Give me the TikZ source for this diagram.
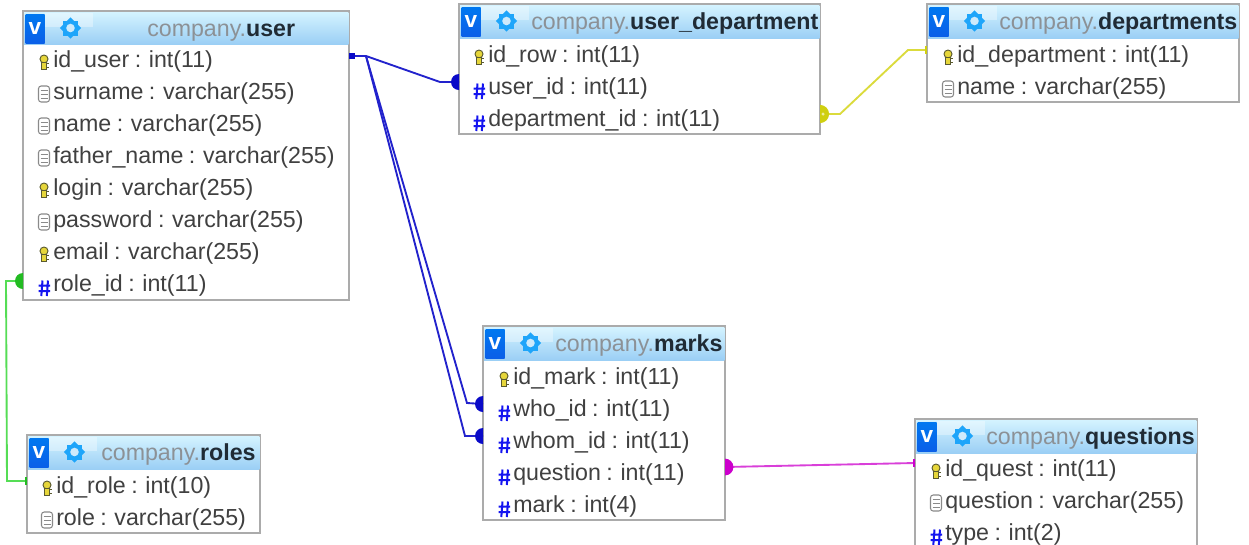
\documentclass[tikz,border=0pt]{standalone}
\usepackage{fontspec}
\setmainfont[WordSpace=0.85]{Liberation Sans}
\usetikzlibrary{calc}
\definecolor{framegray}{HTML}{ABABAB}
\definecolor{rowtext}{HTML}{404040}
\definecolor{titlegray}{HTML}{8C9196}
\definecolor{titledark}{HTML}{202B35}
\definecolor{headtop}{HTML}{D4F3FF}
\definecolor{headmid}{HTML}{A6D8F8}
\definecolor{headbot}{HTML}{9BCFF5}
\definecolor{vblue}{HTML}{0A5FE8}
\definecolor{vbluetop}{HTML}{0078F0}
\definecolor{gearblue}{HTML}{1EA5FA}
\definecolor{hashblue}{HTML}{1414F0}
\definecolor{keyyellow}{HTML}{E6D63A}
\definecolor{keydark}{HTML}{5A5A30}
\definecolor{docgray}{HTML}{8A8A8A}
\definecolor{linkblue}{HTML}{2222CC}
\definecolor{dotblue}{HTML}{0A0AC8}
\definecolor{linkyellow}{HTML}{DBDB3C}
\definecolor{dotyellow}{HTML}{CFCF10}
\definecolor{linkmagenta}{HTML}{D93FD9}
\definecolor{dotmagenta}{HTML}{CC00CC}
\definecolor{linkgreen}{HTML}{55DD55}
\definecolor{dotgreen}{HTML}{22BB22}
\tikzset{
  x=0.75pt,y=-0.75pt,
  tablebox/.style={draw=framegray,line width=1.2pt,fill=white,rectangle,inner sep=0pt,outer sep=0pt,anchor=north west},
  headerbar/.style={rectangle,inner sep=0pt,outer sep=0pt,anchor=north west,top color=headtop,middle color=headmid,bottom color=headbot},
  rowlabel/.style={anchor=base west,inner sep=0pt,text=rowtext,font=\fontsize{17.4}{20}\selectfont},
  titlelabel/.style={anchor=base west,inner sep=0pt,font=\fontsize{17.4}{20}\selectfont},
  vbadge/.style={rectangle,inner sep=0pt,outer sep=0pt,anchor=north west,minimum width=14.25pt,minimum height=21.75pt,top color=vbluetop,bottom color=vblue,text=white,font=\bfseries\fontsize{17}{17}\selectfont},
  link/.style={line width=1.4pt},
}
% table frame: name, x, y, width, height, header height, title prefix position, table title
\newcommand{\dbtable}[8]{%
  \node[tablebox,minimum width=#4*0.75pt,minimum height=#5*0.75pt] (#1) at (#2,#3) {};
  \node[headerbar,minimum width=#4*0.75pt-1.2pt,minimum height=#6*0.75pt] (#1head) at ($(#2,#3)+(1,1)$) {};
  \fill[white,opacity=0.35] ($(#2,#3)+(22,2)$) rectangle ($(#2,#3)+(70,16)$);
  \node[vbadge] (#1v) at ($(#2,#3)+(2.5,3)$) {v};
  \begin{scope}[shift={($(#2,#3)+(47.5,17)$)}]
    \fill[gearblue] (-7.5,-7.5) rectangle (7.5,7.5);
    \fill[gearblue,rotate=45] (-7.5,-7.5) rectangle (7.5,7.5);
    \fill[headmid!55!white] (0,0) circle[radius=3.2pt];
  \end{scope}
  \node[titlelabel] (#1title) at ($(#2,#3)+(#7,25)$) {\textcolor{titlegray}{company.}\textcolor{titledark}{\bfseries #8}};
}
\newcommand{\keyicon}[2]{%
  \begin{scope}[shift={(#1,#2)}]
    \draw[keydark,fill=keyyellow,line width=0.7pt] (0,0) circle[radius=3pt];
    \draw[keydark,line width=0.7pt] (1.5,4) -- (4.5,4) (1.5,8) -- (4.5,8);
    \draw[keydark,fill=keyyellow,line width=0.7pt] (-2.3,3) rectangle (2.3,10.5);
  \end{scope}}
\newcommand{\docicon}[2]{%
  \begin{scope}[shift={(#1,#2)}]
    \draw[docgray,fill=white,line width=0.8pt,rounded corners=2pt] (-5.5,-5) rectangle (5.5,11);
    \draw[docgray,line width=0.7pt] (-3.5,-1) -- (3.5,-1) (-3.5,3) -- (3.5,3) (-3.5,7) -- (3.5,7);
  \end{scope}}
\newcommand{\hashicon}[2]{%
  \begin{scope}[shift={(#1,#2)}]
    \draw[hashblue,line width=1.5pt] (-1.5,-2.5) -- (-2.7,13) (4,-2.5) -- (2.8,13) (-5.5,2.5) -- (6,2.5) (-5.5,8) -- (6,8);
  \end{scope}}
% row: node name, icon macro, text x, centre y, text
\newcommand{\dbrow}[5]{%
  #2{\numexpr#3-9\relax}{#4}
  \node[rowlabel] (#1) at (#3,#4+8) {#5};
}
\newcommand{\halfleft}[3]{\fill[#1] (#2) ++(90:#3) arc[start angle=90,end angle=270,radius=#3] -- cycle;}
\newcommand{\halfright}[3]{\fill[#1] (#2) ++(90:#3) arc[start angle=90,end angle=-90,radius=#3] -- cycle;}
\begin{document}
\begin{tikzpicture}
\clip (0,0) rectangle (1249,544);
\fill[white] (0,0) rectangle (1249,544);

% ---------- connectors ----------
\coordinate (uOut) at (349,56);
\coordinate (uJoin) at (366,56);
\coordinate (udIn) at (459,82);
\coordinate (whoIn) at (483,404);
\coordinate (whomIn) at (483,436);
\coordinate (udOut) at (820,114);
\coordinate (depIn) at (927,50);
\coordinate (markOut) at (725,467);
\coordinate (questIn) at (915,463);
\coordinate (roleOut) at (23,281);
\coordinate (rolesIn) at (27,481);

% ---------- tables ----------
\dbtable{user}{23}{11}{326}{289}{32}{124}{user}
\dbrow{uA}{\keyicon}{53}{59}{id\_user : int(11)}
\dbrow{uB}{\docicon}{53}{91}{surname : varchar(255)}
\dbrow{uC}{\docicon}{53}{123}{name : varchar(255)}
\dbrow{uD}{\docicon}{53}{155}{father\_name : varchar(255)}
\dbrow{uE}{\keyicon}{53}{187}{login : varchar(255)}
\dbrow{uF}{\docicon}{53}{219}{password : varchar(255)}
\dbrow{uG}{\keyicon}{53}{251}{email : varchar(255)}
\dbrow{uH}{\hashicon}{53}{283}{role\_id : int(11)}

\dbtable{userdep}{459}{4}{361}{130}{33}{72}{user\_department}
\dbrow{dA}{\keyicon}{488}{54}{id\_row : int(11)}
\dbrow{dB}{\hashicon}{488}{86}{user\_id : int(11)}
\dbrow{dC}{\hashicon}{488}{118}{department\_id : int(11)}

\dbtable{departments}{927}{4}{312}{98}{33}{72}{departments}
\dbrow{pA}{\keyicon}{957}{54}{id\_department : int(11)}
\dbrow{pB}{\docicon}{957}{86}{name : varchar(255)}

\dbtable{marks}{483}{326}{242}{194}{33}{72}{marks}
\dbrow{mA}{\keyicon}{513}{376}{id\_mark : int(11)}
\dbrow{mB}{\hashicon}{513}{408}{who\_id : int(11)}
\dbrow{mC}{\hashicon}{513}{440}{whom\_id : int(11)}
\dbrow{mD}{\hashicon}{513}{472}{question : int(11)}
\dbrow{mE}{\hashicon}{513}{504}{mark : int(4)}

\dbtable{roles}{27}{435}{233}{98}{33}{74}{roles}
\dbrow{rA}{\keyicon}{56}{485}{id\_role : int(10)}
\dbrow{rB}{\docicon}{56}{517}{role : varchar(255)}

\dbtable{questions}{915}{419}{282}{140}{33}{71}{questions}
\dbrow{qA}{\keyicon}{945}{468}{id\_quest : int(11)}
\dbrow{qB}{\docicon}{945}{500}{question : varchar(255)}
\dbrow{qC}{\hashicon}{945}{532}{type : int(2)}

% ---------- links ----------
\draw[link,linkblue] (uOut) -- (uJoin) -- (440,82) -- (udIn);
\draw[link,linkblue] (uJoin) -- (467,403) -- (whoIn);
\draw[link,linkblue] (uJoin) -- (465,436) -- (whomIn);
\fill[dotblue] ($(uOut)+(0,-3)$) rectangle ($(uOut)+(6,3)$);
\halfleft{dotblue}{udIn}{6pt}
\halfleft{dotblue}{whoIn}{6pt}
\halfleft{dotblue}{whomIn}{6pt}

\draw[link,linkyellow] (udOut) -- (840,114) -- (908,50) -- (depIn);
\halfright{dotyellow}{udOut}{6.8pt}
\fill[linkyellow!50!white] ($(udOut)+(3,0)$) circle[radius=1.3pt];
\fill[dotyellow] ($(depIn)+(-2,-4)$) rectangle ($(depIn)+(0,4)$);

\draw[link,linkmagenta] (markOut) -- (questIn);
\halfright{dotmagenta}{markOut}{6.3pt}
\fill[dotmagenta] ($(questIn)+(-2,-4)$) rectangle ($(questIn)+(0,4)$);

\draw[link,linkgreen] (roleOut) -- (6,281) -- (7,481) -- (rolesIn);
\halfleft{dotgreen}{roleOut}{6pt}
\fill[dotgreen] ($(rolesIn)+(-2,-4)$) rectangle ($(rolesIn)+(0,4)$);
\end{tikzpicture}
\end{document}
